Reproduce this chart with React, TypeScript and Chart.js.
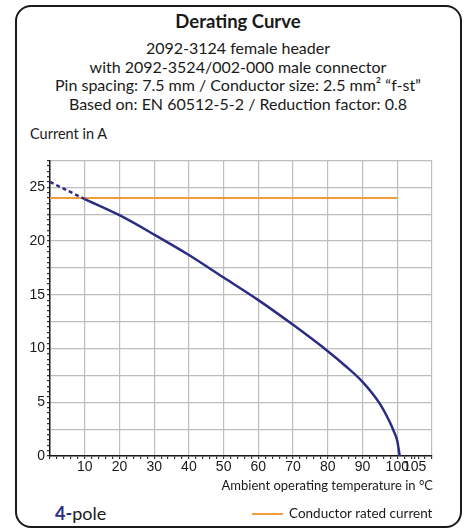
import React, { useEffect, useRef } from "react";
import { Chart, registerables } from "chart.js";

Chart.register(...registerables);

// ---- data ----
const xTickLabels = [10, 20, 30, 40, 50, 60, 70, 80, 90, 100, 105];
const yTickLabels = [0, 5, 10, 15, 20, 25];
const dashedTemps = [0, 10];
const dashedCurrents = [25.5, 23.9];
const solidTemps = [10, 20, 30, 40, 50, 60, 70, 80, 85, 90, 95, 98, 99, 100, 100.7];
const solidCurrents = [23.9, 22.4, 20.6, 18.7, 16.6, 14.5, 12.2, 9.75, 8.4, 6.9, 4.85, 3.05, 2.3, 1.4, 0];
const ratedTemps = [0, 100];
const ratedCurrents = [24, 24];

const NAVY = "#2b2c84";
const ORANGE = "#f39c3c";
const FONT = "Lato, 'Noto Sans', sans-serif";

const X_MAX = 110;
const X_MINOR = 2;
const X_MAJOR = 10;
const Y_MAX = 27.5;
const Y_MINOR = 0.5;
const Y_MAJOR = 2.5;

const toXY = (xs: number[], ys: number[]) => xs.map((x, i) => ({ x, y: ys[i] }));

function App() {
  const ref = useRef<HTMLCanvasElement | null>(null);

  useEffect(() => {
    if (!ref.current) return;
    const isMult = (v: number, m: number) => Math.abs(v / m - Math.round(v / m)) < 1e-6;
    const chart = new Chart(ref.current, {
      type: "line",
      data: {
        datasets: [
          {
            data: toXY(solidTemps, solidCurrents),
            borderColor: NAVY,
            borderWidth: 2.5,
            pointRadius: 0,
            cubicInterpolationMode: "monotone",
            fill: false,
          },
          {
            data: toXY(dashedTemps, dashedCurrents),
            borderColor: NAVY,
            borderWidth: 2.5,
            borderDash: [4, 3],
            pointRadius: 0,
            fill: false,
          },
          {
            data: toXY(ratedTemps, ratedCurrents),
            borderColor: ORANGE,
            borderWidth: 2,
            pointRadius: 0,
            fill: false,
          },
        ],
      },
      options: {
        responsive: false,
        animation: false,
        events: [],
        layout: { padding: { top: 8, right: 35, left: 0, bottom: 0 } },
        plugins: { legend: { display: false }, tooltip: { enabled: false }, title: { display: false } },
        scales: {
          x: {
            type: "linear",
            min: 0,
            max: X_MAX,
            afterBuildTicks: (scale: any) => {
              const t: any[] = [];
              for (let v = 0; v <= X_MAX + 1e-9; v += X_MINOR) t.push({ value: v });
              xTickLabels.forEach((v) => {
                if (!t.some((k) => Math.abs(k.value - v) < 1e-9)) t.push({ value: v });
              });
              t.sort((a, b) => a.value - b.value);
              scale.ticks = t;
            },
            afterFit: (scale: any) => {
              scale.height = 24;
            },
            ticks: {
              autoSkip: false,
              maxRotation: 0,
              padding: 0,
              color: "#1a1a1a",
              font: { family: "'Liberation Sans', Arial, sans-serif", size: 14 },
              callback: (v: any) => (xTickLabels.includes(Number(v)) ? String(v) : ""),
            },
            grid: {
              color: (c: any) => (isMult(c.tick.value, X_MAJOR) ? "#bdbdbd" : "rgba(0,0,0,0)"),
              lineWidth: 1.2,
              tickColor: "#333",
              tickLength: 3,
              drawTicks: true,
            },
            border: { display: true, color: "#1a1a1a", width: 1.5 },
          },
          y: {
            type: "linear",
            min: 0,
            max: Y_MAX,
            afterBuildTicks: (scale: any) => {
              const t: any[] = [];
              for (let v = 0; v <= Y_MAX + 1e-9; v += Y_MINOR) t.push({ value: Math.round(v * 10) / 10 });
              scale.ticks = t;
            },
            afterFit: (scale: any) => {
              scale.width = 50;
            },
            ticks: {
              autoSkip: false,
              padding: 2,
              color: "#1a1a1a",
              font: { family: "'Liberation Sans', Arial, sans-serif", size: 14 },
              callback: (v: any) => (yTickLabels.includes(Number(v)) ? String(v) : ""),
            },
            grid: {
              color: (c: any) => (isMult(c.tick.value, Y_MAJOR) ? "#bdbdbd" : "rgba(0,0,0,0)"),
              lineWidth: 1.2,
              tickColor: "#333",
              tickLength: 3,
              drawTicks: true,
            },
            border: { display: true, color: "#1a1a1a", width: 1.5 },
          },
        },
      },
    } as any);
    return () => chart.destroy();
  }, []);

  const line = (top: number, text: React.ReactNode, size = 16, bold = false): React.ReactNode => (
    <div
      style={{
        position: "absolute",
        left: 15,
        width: 446,
        top,
        textAlign: "center",
        fontSize: size,
        lineHeight: `${size}px`,
        fontWeight: bold ? 700 : 400,
        color: "#1a1a1a",
        whiteSpace: "nowrap",
      }}
    >
      {text}
    </div>
  );

  return (
    <div
      style={{
        position: "absolute",
        left: 0,
        top: 0,
        width: 467,
        height: 531,
        background: "#fff",
        fontFamily: FONT,
        overflow: "hidden",
      }}
    >
      <div
        style={{
          position: "absolute",
          left: 15,
          top: 5,
          width: 446.5,
          height: 523,
          boxSizing: "border-box",
          border: "2px solid #1a1a1a",
          borderRadius: 16,
        }}
      />
      {line(12, "Derating Curve", 18.5, true)}
      {line(40, "2092-3124 female header")}
      {line(58.5, "with 2092-3524/002-000 male connector")}
      {line(77, "Pin spacing: 7.5 mm / Conductor size: 2.5 mm² “f-st”")}
      {line(95.5, "Based on: EN 60512-5-2 / Reduction factor: 0.8")}
      <div style={{ position: "absolute", left: 30, top: 127, fontSize: 14.5, lineHeight: "14.5px", color: "#1a1a1a" }}>
        Current in A
      </div>
      <canvas
        ref={ref}
        width={467}
        height={330}
        style={{ position: "absolute", left: 0, top: 150, width: 467, height: 330 }}
      />
      <div
        style={{
          position: "absolute",
          right: 467 - 433,
          top: 478.5,
          fontSize: 13,
          lineHeight: "13px",
          color: "#1a1a1a",
          whiteSpace: "nowrap",
        }}
      >
        Ambient operating temperature in °C
      </div>
      <div style={{ position: "absolute", left: 55, top: 504, fontSize: 18, lineHeight: "18px", color: "#1a1a1a" }}>
        <span style={{ color: NAVY, fontWeight: 700 }}>4-</span>pole
      </div>
      <div style={{ position: "absolute", left: 252, top: 513, width: 31, height: 2, background: ORANGE }} />
      <div
        style={{
          position: "absolute",
          left: 289,
          top: 507,
          fontSize: 13.5,
          lineHeight: "13.5px",
          color: "#1a1a1a",
          whiteSpace: "nowrap",
        }}
      >
        Conductor rated current
      </div>
    </div>
  );
}

export default App;
